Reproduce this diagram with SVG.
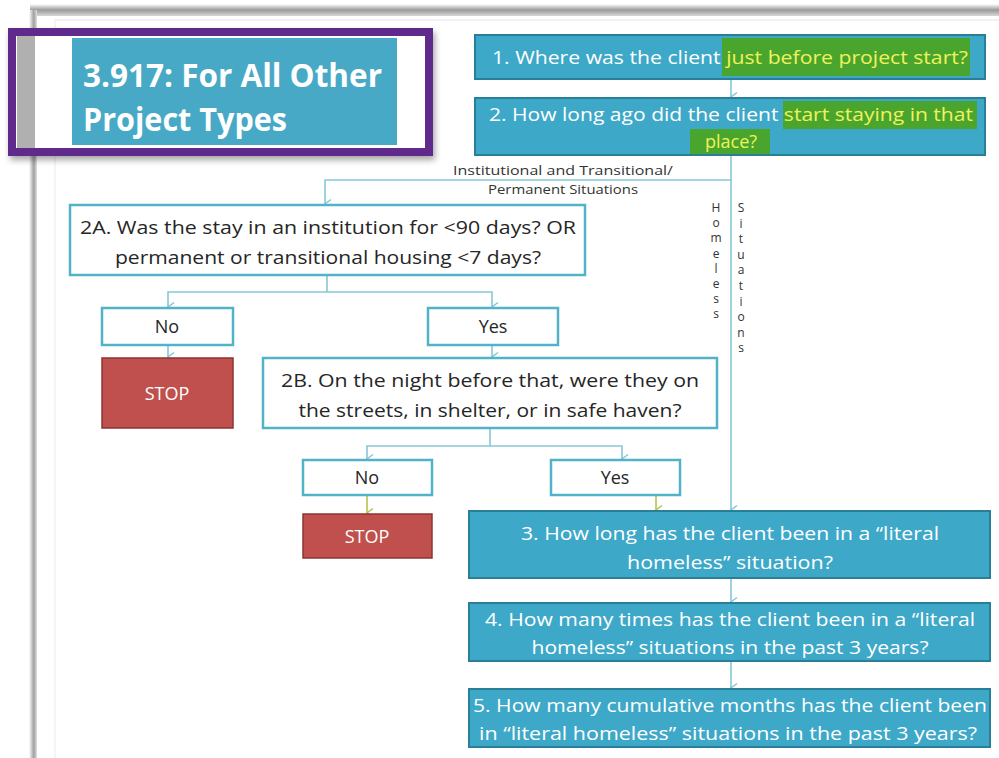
<svg xmlns="http://www.w3.org/2000/svg" width="999" height="758" viewBox="0 0 999 758">
<defs>
<style>
.txt{font-family:"Open Sans","Liberation Sans",sans-serif;}
.q{font-family:"Open Sans","Liberation Sans",sans-serif;font-size:18px;fill:#262626;text-anchor:middle;}
.qw{font-family:"Open Sans","Liberation Sans",sans-serif;font-size:18px;fill:#ffffff;text-anchor:middle;}
.wbox{fill:#ffffff;stroke:#52b2c8;stroke-width:2.5;}
.tbox{fill:#3ea8c8;stroke:#2a7f98;stroke-width:2;}
.stop{fill:#c0504d;stroke:#8c3532;stroke-width:1.5;}
.hl{fill:#4aa52e;}
.yel{fill:#f0f25a;}
.con{fill:none;stroke:#86c7d6;stroke-width:1.6;}
.cony{fill:none;stroke:#b8c24e;stroke-width:1.6;}
.vl{font-family:"Open Sans","Liberation Sans",sans-serif;font-size:12px;fill:#333333;text-anchor:middle;}
</style>
<marker id="ah" viewBox="0 0 12 12" refX="6" refY="11" markerWidth="12" markerHeight="12" markerUnits="userSpaceOnUse" orient="auto-start-reverse">
<path d="M1.5,5 L6,11 L10.5,5" fill="none" stroke="#86c7d6" stroke-width="1.5"/>
</marker>
<marker id="ahy" viewBox="0 0 12 12" refX="6" refY="11" markerWidth="12" markerHeight="12" markerUnits="userSpaceOnUse" orient="auto">
<path d="M1.5,5 L6,11 L10.5,5" fill="none" stroke="#b8c24e" stroke-width="1.5"/>
</marker>
<marker id="ahd" viewBox="0 0 12 12" refX="6" refY="11" markerWidth="12" markerHeight="12" markerUnits="userSpaceOnUse" orient="auto">
<path d="M1.5,5 L6,11 L10.5,5" fill="none" stroke="#86c7d6" stroke-width="1.5"/>
</marker>
<linearGradient id="topbar" x1="0" y1="0" x2="0" y2="1">
<stop offset="0" stop-color="#ffffff"/>
<stop offset="0.5" stop-color="#9a9a9a"/>
<stop offset="1" stop-color="#d8d8d8"/>
</linearGradient>
<linearGradient id="leftbar" x1="0" y1="0" x2="1" y2="0">
<stop offset="0" stop-color="#ffffff"/>
<stop offset="0.6" stop-color="#a0a0a0"/>
<stop offset="1" stop-color="#e0e0e0"/>
</linearGradient>
<filter id="sh" x="-5%" y="-10%" width="115%" height="130%">
<feDropShadow dx="2" dy="4" stdDeviation="3" flood-color="#000" flood-opacity="0.35"/>
</filter>
</defs>
<rect x="0" y="0" width="999" height="758" fill="#ffffff"/>
<g id="slide-frame">
<rect x="30" y="4" width="969" height="12" fill="url(#topbar)"/>
<rect x="29" y="10" width="8" height="748" fill="url(#leftbar)"/>
<line x1="55" y1="20" x2="999" y2="20" stroke="#e6e2ee" stroke-width="1"/>
<line x1="55" y1="20" x2="55" y2="758" stroke="#ebe8f0" stroke-width="1"/>
</g>
<g id="title">
<rect x="12" y="32" width="417" height="120" fill="#ffffff" stroke="#5e2b8c" stroke-width="8" filter="url(#sh)"/>
<rect x="17" y="36" width="18" height="112" fill="#b0b0b0"/>
<rect x="72" y="38" width="325" height="107" fill="#47a9c6"/>
<text class="txt" x="83" y="87" font-size="33" font-weight="bold" fill="#ffffff" textLength="299" lengthAdjust="spacingAndGlyphs">3.917: For All Other</text>
<text class="txt" x="83" y="131" font-size="33" font-weight="bold" fill="#ffffff" textLength="204" lengthAdjust="spacingAndGlyphs">Project Types</text>
</g>
<g id="connectors">
<line class="con" x1="731" y1="79" x2="731" y2="97" marker-end="url(#ahd)"/>
<line class="con" x1="731" y1="155" x2="731" y2="510" marker-end="url(#ahd)"/>
<polyline class="con" points="731,180 325,180 325,204" marker-end="url(#ahd)"/>
<line class="con" x1="327" y1="275" x2="327" y2="292"/>
<polyline class="con" points="168,307 168,292 492,292 492,307" marker-start="url(#ah)" marker-end="url(#ahd)"/>
<line class="con" x1="168" y1="345" x2="168" y2="357" marker-end="url(#ahd)"/>
<line class="con" x1="492" y1="345" x2="492" y2="357" marker-end="url(#ahd)"/>
<line class="con" x1="490" y1="428" x2="490" y2="446"/>
<polyline class="con" points="367,459 367,446 622,446 622,459" marker-start="url(#ah)" marker-end="url(#ahd)"/>
<line class="cony" x1="367" y1="495" x2="367" y2="513" marker-end="url(#ahy)"/>
<line class="cony" x1="656" y1="495" x2="656" y2="510" marker-end="url(#ahy)"/>
<line class="con" x1="731" y1="578" x2="731" y2="602" marker-end="url(#ahd)"/>
<line class="con" x1="731" y1="661" x2="731" y2="688" marker-end="url(#ahd)"/>
</g>
<g id="branch-labels">
<text class="txt" x="563" y="175" font-size="13" fill="#333333" text-anchor="middle" textLength="220" lengthAdjust="spacingAndGlyphs">Institutional and Transitional/</text>
<text class="txt" x="563" y="194" font-size="13" fill="#333333" text-anchor="middle" textLength="150" lengthAdjust="spacingAndGlyphs">Permanent Situations</text>
<text class="vl"><tspan x="716" y="212">H</tspan><tspan x="716" dy="15.2">o</tspan><tspan x="716" dy="15.2">m</tspan><tspan x="716" dy="15.2">e</tspan><tspan x="716" dy="15.2">l</tspan><tspan x="716" dy="15.2">e</tspan><tspan x="716" dy="15.2">s</tspan><tspan x="716" dy="15.2">s</tspan></text>
<text class="vl"><tspan x="741" y="212">S</tspan><tspan x="741" dy="15.6">i</tspan><tspan x="741" dy="15.6">t</tspan><tspan x="741" dy="15.6">u</tspan><tspan x="741" dy="15.6">a</tspan><tspan x="741" dy="15.6">t</tspan><tspan x="741" dy="15.6">i</tspan><tspan x="741" dy="15.6">o</tspan><tspan x="741" dy="15.6">n</tspan><tspan x="741" dy="15.6">s</tspan></text>
</g>
<g id="q1">
<rect class="tbox" x="475" y="35" width="510" height="44"/>
<rect class="hl" x="722" y="38" width="248" height="38"/>
<text class="qw" x="730" y="64" textLength="476" lengthAdjust="spacingAndGlyphs">1. Where was the client <tspan class="yel">just before project start?</tspan></text>
</g>
<g id="q2">
<rect class="tbox" x="475" y="98" width="510" height="57"/>
<rect class="hl" x="783" y="101" width="194" height="28"/>
<rect class="hl" x="690" y="129" width="80" height="25"/>
<text class="qw" x="731" y="121" textLength="484" lengthAdjust="spacingAndGlyphs">2. How long ago did the client <tspan class="yel">start staying in that</tspan></text>
<text class="qw" x="731" y="148"><tspan class="yel">place?</tspan></text>
</g>
<g id="q2a">
<rect class="wbox" x="70" y="205" width="515" height="70"/>
<text class="q" x="328" y="234" font-size="19" textLength="496" lengthAdjust="spacingAndGlyphs">2A. Was the stay in an institution for &lt;90 days? OR</text>
<text class="q" x="328" y="264" font-size="19" textLength="426" lengthAdjust="spacingAndGlyphs">permanent or transitional housing &lt;7 days?</text>
</g>
<g id="no1">
<rect class="wbox" x="102" y="308" width="131" height="37"/>
<text class="q" x="167" y="333" font-size="19">No</text>
</g>
<g id="yes1">
<rect class="wbox" x="428" y="308" width="130" height="37"/>
<text class="q" x="493" y="333" font-size="19">Yes</text>
</g>
<g id="stop1">
<rect class="stop" x="102" y="358" width="131" height="70"/>
<text class="qw" x="167" y="400" font-size="19">STOP</text>
</g>
<g id="q2b">
<rect class="wbox" x="263" y="358" width="454" height="70"/>
<text class="q" x="490" y="387" font-size="19" textLength="418" lengthAdjust="spacingAndGlyphs">2B. On the night before that, were they on</text>
<text class="q" x="490" y="417" font-size="19" textLength="383" lengthAdjust="spacingAndGlyphs">the streets, in shelter, or in safe haven?</text>
</g>
<g id="no2">
<rect class="wbox" x="303" y="460" width="129" height="35"/>
<text class="q" x="367" y="484" font-size="19">No</text>
</g>
<g id="yes2">
<rect class="wbox" x="551" y="460" width="129" height="35"/>
<text class="q" x="615" y="484" font-size="19">Yes</text>
</g>
<g id="stop2">
<rect class="stop" x="303" y="514" width="129" height="44"/>
<text class="qw" x="367" y="543" font-size="19">STOP</text>
</g>
<g id="q3">
<rect class="tbox" x="469" y="511" width="521" height="67"/>
<text class="qw" x="730" y="540" font-size="19" textLength="418" lengthAdjust="spacingAndGlyphs">3. How long has the client been in a “literal</text>
<text class="qw" x="730" y="569" font-size="19" textLength="206" lengthAdjust="spacingAndGlyphs">homeless” situation?</text>
</g>
<g id="q4">
<rect class="tbox" x="469" y="603" width="521" height="58"/>
<text class="qw" x="730" y="626" font-size="19" textLength="490" lengthAdjust="spacingAndGlyphs">4. How many times has the client been in a “literal</text>
<text class="qw" x="730" y="654" font-size="19" textLength="397" lengthAdjust="spacingAndGlyphs">homeless” situations in the past 3 years?</text>
</g>
<g id="q5">
<rect class="tbox" x="469" y="689" width="521" height="58"/>
<text class="qw" x="730" y="712" font-size="19" textLength="514" lengthAdjust="spacingAndGlyphs">5. How many cumulative months  has the client been</text>
<text class="qw" x="728" y="740" font-size="19" textLength="498" lengthAdjust="spacingAndGlyphs">in “literal homeless” situations in the past 3 years?</text>
</g>
</svg>
